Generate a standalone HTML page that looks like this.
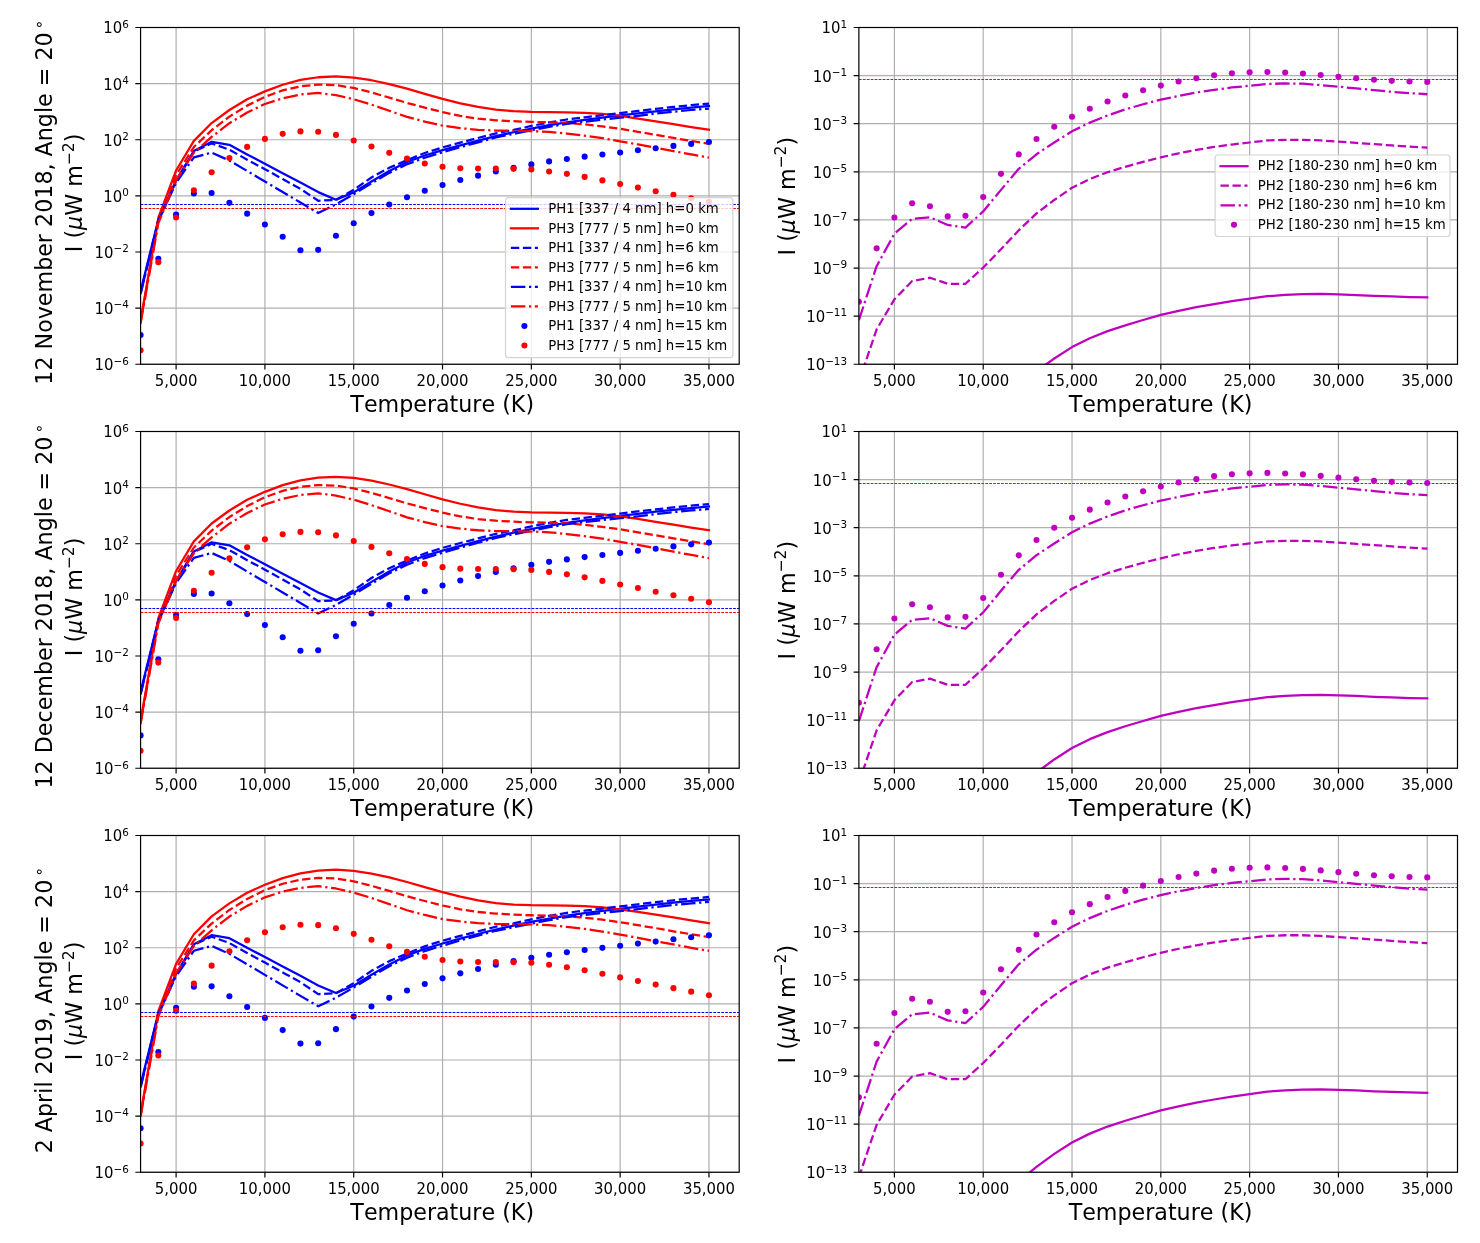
<!DOCTYPE html>
<html><head><meta charset="utf-8"><title>Photometer irradiance vs temperature</title>
<style>html,body{margin:0;padding:0;background:#fff}svg{display:block;will-change:transform}</style></head>
<body>
<svg width="1480" height="1243" viewBox="0 0 1480 1243" font-family="'DejaVu Sans', 'Liberation Sans', sans-serif" fill="#000" style="font-kerning:none">
<clipPath id="c00"><rect x="140.58" y="27.5" width="598.62" height="336.75"/></clipPath>
<path d="M176.1 27.5V364.25M264.91 27.5V364.25M353.72 27.5V364.25M442.53 27.5V364.25M531.34 27.5V364.25M620.15 27.5V364.25M708.96 27.5V364.25M140.58 27.5H739.2M140.58 83.62H739.2M140.58 139.75H739.2M140.58 195.88H739.2M140.58 252H739.2M140.58 308.12H739.2M140.58 364.25H739.2" stroke="#b0b0b0" stroke-width="1.2" fill="none"/>
<g clip-path="url(#c00)" fill="none" stroke-width="2.26" stroke-linejoin="round">
<polyline points="140.58,291.29 158.34,219.73 176.1,180.44 193.87,150.98 211.63,141.83 229.39,144.8 247.15,154.48 264.91,163.72 282.68,173.2 300.44,182.43 318.2,192.09 335.96,199.69 353.72,192.37 371.49,181.42 389.25,171.04 407.01,162.06 424.77,155.47 442.53,150.13 460.3,145.36 478.06,140.68 495.82,136.16 513.58,132.23 531.34,128.53 549.11,125.16 566.87,122.3 584.63,119.83 602.39,117.58 620.15,115.48 637.92,113.37 655.68,111.27 673.44,109.3 691.2,107.62 708.96,106.07" stroke="#0000ff" stroke-linecap="square"/>
<polyline points="140.58,320.75 158.34,217.76 176.1,170.51 193.87,140.87 211.63,123.05 229.39,110 247.15,99.34 264.91,91.37 282.68,84.72 300.44,79.95 318.2,77.25 335.96,76.33 353.72,77.51 371.49,80.23 389.25,84.05 407.01,88.65 424.77,93.81 442.53,98.83 460.3,103.3 478.06,106.97 495.82,109.7 513.58,111.24 531.34,111.88 549.11,112.08 566.87,112.3 584.63,112.87 602.39,113.99 620.15,115.92 637.92,118.51 655.68,121.37 673.44,124.06 691.2,127.07 708.96,129.79" stroke="#ff0000" stroke-linecap="square"/>
<polyline points="140.58,293.25 158.34,220.29 176.1,181.28 193.87,151.54 211.63,143.34 229.39,149.71 247.15,159.67 264.91,169.22 282.68,179.04 300.44,188.86 318.2,200.76 335.96,199.94 353.72,189.79 371.49,177.49 389.25,167.81 407.01,160.1 424.77,153 442.53,147.41 460.3,142.56 478.06,137.98 495.82,133.38 513.58,129.93 531.34,125.97 549.11,122.44 566.87,119.49 584.63,117.3 602.39,115.25 620.15,113.09 637.92,110.93 655.68,108.88 673.44,106.92 691.2,105.18 708.96,103.63" stroke="#0000ff" stroke-dasharray="8.36 3.62"/>
<polyline points="140.58,322.16 158.34,220.57 176.1,175.11 193.87,147.05 211.63,130.21 229.39,116.6 247.15,105.63 264.91,96.79 282.68,90.42 300.44,86.35 318.2,84.58 335.96,85.17 353.72,87.97 371.49,92.44 389.25,97.6 407.01,102.9 424.77,107.65 442.53,112.14 460.3,115.92 478.06,118.65 495.82,120.27 513.58,121.23 531.34,121.9 549.11,122.3 566.87,123 584.63,124.34 602.39,126.39 620.15,128.83 637.92,131.81 655.68,134.78 673.44,137.93 691.2,140.9 708.96,143.76" stroke="#ff0000" stroke-dasharray="8.36 3.62"/>
<polyline points="140.58,294.09 158.34,221.13 176.1,182.69 193.87,157.43 211.63,152.52 229.39,160.52 247.15,171.01 264.91,181.51 282.68,192 300.44,202.5 318.2,212.99 335.96,204.41 353.72,194.19 371.49,183.39 389.25,172.86 407.01,164.3 424.77,157.71 442.53,152.29 460.3,147.1 478.06,142.3 495.82,137.42 513.58,133.86 531.34,130.29 549.11,126.79 566.87,123.78 584.63,121.65 602.39,119.6 620.15,117.72 637.92,115.81 655.68,113.65 673.44,111.69 691.2,110 708.96,108.52" stroke="#0000ff" stroke-dasharray="14.46 3.62 2.26 3.62"/>
<polyline points="140.58,323.56 158.34,223.1 176.1,180.16 193.87,152.66 211.63,136.94 229.39,123.19 247.15,112.53 264.91,104 282.68,98.27 300.44,94.49 318.2,92.86 335.96,95.13 353.72,99.23 371.49,104.67 389.25,110.76 407.01,116.88 424.77,121.62 442.53,125.72 460.3,128.13 478.06,129.79 495.82,130.57 513.58,130.77 531.34,131.05 549.11,131.81 566.87,133.58 584.63,135.6 602.39,138.18 620.15,141.32 637.92,144.44 655.68,147.83 673.44,151.09 691.2,154.48 708.96,157.6" stroke="#ff0000" stroke-dasharray="14.46 3.62 2.26 3.62"/>
<circle cx="140.58" cy="334.95" r="3.05" fill="#0000ff" stroke="none"/>
<circle cx="158.34" cy="258.76" r="3.05" fill="#0000ff" stroke="none"/>
<circle cx="176.1" cy="214.51" r="3.05" fill="#0000ff" stroke="none"/>
<circle cx="193.87" cy="193.43" r="3.05" fill="#0000ff" stroke="none"/>
<circle cx="211.63" cy="192.98" r="3.05" fill="#0000ff" stroke="none"/>
<circle cx="229.39" cy="202.83" r="3.05" fill="#0000ff" stroke="none"/>
<circle cx="247.15" cy="213.64" r="3.05" fill="#0000ff" stroke="none"/>
<circle cx="264.91" cy="224.55" r="3.05" fill="#0000ff" stroke="none"/>
<circle cx="282.68" cy="236.73" r="3.05" fill="#0000ff" stroke="none"/>
<circle cx="300.44" cy="250.23" r="3.05" fill="#0000ff" stroke="none"/>
<circle cx="318.2" cy="249.84" r="3.05" fill="#0000ff" stroke="none"/>
<circle cx="335.96" cy="235.78" r="3.05" fill="#0000ff" stroke="none"/>
<circle cx="353.72" cy="223.24" r="3.05" fill="#0000ff" stroke="none"/>
<circle cx="371.49" cy="213.08" r="3.05" fill="#0000ff" stroke="none"/>
<circle cx="389.25" cy="204.49" r="3.05" fill="#0000ff" stroke="none"/>
<circle cx="407.01" cy="197.22" r="3.05" fill="#0000ff" stroke="none"/>
<circle cx="424.77" cy="190.71" r="3.05" fill="#0000ff" stroke="none"/>
<circle cx="442.53" cy="185.01" r="3.05" fill="#0000ff" stroke="none"/>
<circle cx="460.3" cy="179.99" r="3.05" fill="#0000ff" stroke="none"/>
<circle cx="478.06" cy="175.64" r="3.05" fill="#0000ff" stroke="none"/>
<circle cx="495.82" cy="171.43" r="3.05" fill="#0000ff" stroke="none"/>
<circle cx="513.58" cy="167.78" r="3.05" fill="#0000ff" stroke="none"/>
<circle cx="531.34" cy="164.39" r="3.05" fill="#0000ff" stroke="none"/>
<circle cx="549.11" cy="161.39" r="3.05" fill="#0000ff" stroke="none"/>
<circle cx="566.87" cy="158.94" r="3.05" fill="#0000ff" stroke="none"/>
<circle cx="584.63" cy="156.64" r="3.05" fill="#0000ff" stroke="none"/>
<circle cx="602.39" cy="154.48" r="3.05" fill="#0000ff" stroke="none"/>
<circle cx="620.15" cy="152.43" r="3.05" fill="#0000ff" stroke="none"/>
<circle cx="637.92" cy="150.27" r="3.05" fill="#0000ff" stroke="none"/>
<circle cx="655.68" cy="148.22" r="3.05" fill="#0000ff" stroke="none"/>
<circle cx="673.44" cy="145.92" r="3.05" fill="#0000ff" stroke="none"/>
<circle cx="691.2" cy="143.9" r="3.05" fill="#0000ff" stroke="none"/>
<circle cx="708.96" cy="142" r="3.05" fill="#0000ff" stroke="none"/>
<circle cx="140.58" cy="350.22" r="3.05" fill="#ff0000" stroke="none"/>
<circle cx="158.34" cy="262.13" r="3.05" fill="#ff0000" stroke="none"/>
<circle cx="176.1" cy="217.48" r="3.05" fill="#ff0000" stroke="none"/>
<circle cx="193.87" cy="190.26" r="3.05" fill="#ff0000" stroke="none"/>
<circle cx="211.63" cy="172.3" r="3.05" fill="#ff0000" stroke="none"/>
<circle cx="229.39" cy="157.93" r="3.05" fill="#ff0000" stroke="none"/>
<circle cx="247.15" cy="146.88" r="3.05" fill="#ff0000" stroke="none"/>
<circle cx="264.91" cy="138.88" r="3.05" fill="#ff0000" stroke="none"/>
<circle cx="282.68" cy="133.86" r="3.05" fill="#ff0000" stroke="none"/>
<circle cx="300.44" cy="131.42" r="3.05" fill="#ff0000" stroke="none"/>
<circle cx="318.2" cy="131.81" r="3.05" fill="#ff0000" stroke="none"/>
<circle cx="335.96" cy="134.92" r="3.05" fill="#ff0000" stroke="none"/>
<circle cx="353.72" cy="140.51" r="3.05" fill="#ff0000" stroke="none"/>
<circle cx="371.49" cy="146.46" r="3.05" fill="#ff0000" stroke="none"/>
<circle cx="389.25" cy="152.86" r="3.05" fill="#ff0000" stroke="none"/>
<circle cx="407.01" cy="158.55" r="3.05" fill="#ff0000" stroke="none"/>
<circle cx="424.77" cy="163.43" r="3.05" fill="#ff0000" stroke="none"/>
<circle cx="442.53" cy="166.69" r="3.05" fill="#ff0000" stroke="none"/>
<circle cx="460.3" cy="168.18" r="3.05" fill="#ff0000" stroke="none"/>
<circle cx="478.06" cy="168.6" r="3.05" fill="#ff0000" stroke="none"/>
<circle cx="495.82" cy="168.6" r="3.05" fill="#ff0000" stroke="none"/>
<circle cx="513.58" cy="168.85" r="3.05" fill="#ff0000" stroke="none"/>
<circle cx="531.34" cy="169.41" r="3.05" fill="#ff0000" stroke="none"/>
<circle cx="549.11" cy="171.43" r="3.05" fill="#ff0000" stroke="none"/>
<circle cx="566.87" cy="173.87" r="3.05" fill="#ff0000" stroke="none"/>
<circle cx="584.63" cy="176.88" r="3.05" fill="#ff0000" stroke="none"/>
<circle cx="602.39" cy="180.41" r="3.05" fill="#ff0000" stroke="none"/>
<circle cx="620.15" cy="184.06" r="3.05" fill="#ff0000" stroke="none"/>
<circle cx="637.92" cy="187.6" r="3.05" fill="#ff0000" stroke="none"/>
<circle cx="655.68" cy="191.27" r="3.05" fill="#ff0000" stroke="none"/>
<circle cx="673.44" cy="194.78" r="3.05" fill="#ff0000" stroke="none"/>
<circle cx="691.2" cy="198.32" r="3.05" fill="#ff0000" stroke="none"/>
<circle cx="708.96" cy="201.85" r="3.05" fill="#ff0000" stroke="none"/>
<path d="M140.58 204.5H739.2" stroke="#0000ff" stroke-width="1" stroke-dasharray="2.76 1.19"/>
<path d="M140.58 208.5H739.2" stroke="#ff0000" stroke-width="1" stroke-dasharray="2.76 1.19"/>
</g>
<path d="M176.1 364.25v5.25M264.91 364.25v5.25M353.72 364.25v5.25M442.53 364.25v5.25M531.34 364.25v5.25M620.15 364.25v5.25M708.96 364.25v5.25M140.58 27.5h-5.25M140.58 83.62h-5.25M140.58 139.75h-5.25M140.58 195.88h-5.25M140.58 252h-5.25M140.58 308.12h-5.25M140.58 364.25h-5.25" stroke="#000" stroke-width="1.2" fill="none"/>
<rect x="140.58" y="27.5" width="598.62" height="336.75" fill="none" stroke="#000" stroke-width="1.2"/>
<text transform="translate(176.1 386.1) scale(1 1.04)" text-anchor="middle" font-size="14.9">5,000</text>
<text transform="translate(264.91 386.1) scale(1 1.04)" text-anchor="middle" font-size="14.9">10,000</text>
<text transform="translate(353.72 386.1) scale(1 1.04)" text-anchor="middle" font-size="14.9">15,000</text>
<text transform="translate(442.53 386.1) scale(1 1.04)" text-anchor="middle" font-size="14.9">20,000</text>
<text transform="translate(531.34 386.1) scale(1 1.04)" text-anchor="middle" font-size="14.9">25,000</text>
<text transform="translate(620.15 386.1) scale(1 1.04)" text-anchor="middle" font-size="14.9">30,000</text>
<text transform="translate(708.96 386.1) scale(1 1.04)" text-anchor="middle" font-size="14.9">35,000</text>
<text transform="translate(128.78 33.45) scale(1 1.04)" text-anchor="end" font-size="14.9">10<tspan dy="-5.4" font-size="10.4">6</tspan></text>
<text transform="translate(128.78 89.58) scale(1 1.04)" text-anchor="end" font-size="14.9">10<tspan dy="-5.4" font-size="10.4">4</tspan></text>
<text transform="translate(128.78 145.7) scale(1 1.04)" text-anchor="end" font-size="14.9">10<tspan dy="-5.4" font-size="10.4">2</tspan></text>
<text transform="translate(128.78 201.82) scale(1 1.04)" text-anchor="end" font-size="14.9">10<tspan dy="-5.4" font-size="10.4">0</tspan></text>
<text transform="translate(128.78 257.95) scale(1 1.04)" text-anchor="end" font-size="14.9">10<tspan dy="-5.4" font-size="10.4">−2</tspan></text>
<text transform="translate(128.78 314.07) scale(1 1.04)" text-anchor="end" font-size="14.9">10<tspan dy="-5.4" font-size="10.4">−4</tspan></text>
<text transform="translate(128.78 370.2) scale(1 1.04)" text-anchor="end" font-size="14.9">10<tspan dy="-5.4" font-size="10.4">−6</tspan></text>
<text x="442.19" y="411.55" text-anchor="middle" font-size="22.2" letter-spacing="0" style="font-kerning:none">Temperature (K)</text>
<text transform="translate(82.4 192.88) rotate(-90)" text-anchor="middle" font-size="22.2">I (<tspan font-style="italic">μ</tspan>W m<tspan dy="-8.88" font-size="15.54">−2</tspan><tspan dy="8.88">)</tspan></text>
<text transform="translate(52.2 202.07) rotate(-90)" text-anchor="middle" font-size="22.2">12 November 2018, Angle = 20<tspan dx="3.2" dy="-8.44" font-size="15.54">∘</tspan></text>
<clipPath id="c10"><rect x="858.88" y="27.5" width="598.62" height="336.75"/></clipPath>
<path d="M894.4 27.5V364.25M983.21 27.5V364.25M1072.02 27.5V364.25M1160.83 27.5V364.25M1249.64 27.5V364.25M1338.45 27.5V364.25M1427.26 27.5V364.25M858.88 27.5H1457.5M858.88 75.61H1457.5M858.88 123.71H1457.5M858.88 171.82H1457.5M858.88 219.93H1457.5M858.88 268.04H1457.5M858.88 316.14H1457.5M858.88 364.25H1457.5" stroke="#b0b0b0" stroke-width="1.2" fill="none"/>
<g clip-path="url(#c10)" fill="none" stroke-width="2.26" stroke-linejoin="round">
<polyline points="858.88,580.73 876.64,532.62 894.4,496.54 912.17,467.68 929.93,446.03 947.69,429.19 965.45,414.76 983.21,402.74 1000.98,393.11 1018.74,385.9 1036.5,371.47 1054.26,358.48 1072.02,347.1 1089.79,338.18 1107.55,331.13 1125.31,325.31 1143.07,320.04 1160.83,314.89 1178.6,310.85 1196.36,307.19 1214.12,304.07 1231.88,301.11 1249.64,298.58 1267.41,296.23 1285.17,294.88 1302.93,294.21 1320.69,293.94 1338.45,294.33 1356.22,295.02 1373.98,295.82 1391.74,296.49 1409.5,297.04 1427.26,297.31" stroke="#bf00bf" stroke-linecap="square"/>
<polyline points="858.88,381.81 876.64,329.37 894.4,299.33 912.17,281.07 929.93,277.71 947.69,283.79 965.45,283.79 983.21,267.55 1000.98,249.27 1018.74,230.34 1036.5,213.43 1054.26,199.96 1072.02,187.77 1089.79,178.99 1107.55,172.23 1125.31,166.82 1143.07,161.82 1160.83,157.37 1178.6,153.3 1196.36,149.93 1214.12,146.95 1231.88,144.52 1249.64,142.5 1267.41,140.48 1285.17,139.81 1302.93,139.81 1320.69,140.48 1338.45,141.56 1356.22,142.91 1373.98,144.11 1391.74,145.46 1409.5,146.69 1427.26,147.62" stroke="#bf00bf" stroke-dasharray="8.36 3.62"/>
<polyline points="858.88,320.23 876.64,266.18 894.4,233.74 912.17,218.85 929.93,217.23 947.69,224.93 965.45,227.65 983.21,211.41 1000.98,189.86 1018.74,168.84 1036.5,154.26 1054.26,142.48 1072.02,131.29 1089.79,122.63 1107.55,115.46 1125.31,109.38 1143.07,104.25 1160.83,99.66 1178.6,95.88 1196.36,92.49 1214.12,89.8 1231.88,87.49 1249.64,85.73 1267.41,83.98 1285.17,83.45 1302.93,83.71 1320.69,85.06 1338.45,86.7 1356.22,88.45 1373.98,90.06 1391.74,91.82 1409.5,93.17 1427.26,94.25" stroke="#bf00bf" stroke-dasharray="14.46 3.62 2.26 3.62"/>
<circle cx="858.88" cy="301.78" r="3.05" fill="#bf00bf" stroke="none"/>
<circle cx="876.64" cy="248.34" r="3.05" fill="#bf00bf" stroke="none"/>
<circle cx="894.4" cy="217.5" r="3.05" fill="#bf00bf" stroke="none"/>
<circle cx="912.17" cy="203.28" r="3.05" fill="#bf00bf" stroke="none"/>
<circle cx="929.93" cy="206.27" r="3.05" fill="#bf00bf" stroke="none"/>
<circle cx="947.69" cy="216.42" r="3.05" fill="#bf00bf" stroke="none"/>
<circle cx="965.45" cy="215.86" r="3.05" fill="#bf00bf" stroke="none"/>
<circle cx="983.21" cy="197.08" r="3.05" fill="#bf00bf" stroke="none"/>
<circle cx="1000.98" cy="173.84" r="3.05" fill="#bf00bf" stroke="none"/>
<circle cx="1018.74" cy="154.38" r="3.05" fill="#bf00bf" stroke="none"/>
<circle cx="1036.5" cy="138.99" r="3.05" fill="#bf00bf" stroke="none"/>
<circle cx="1054.26" cy="126.82" r="3.05" fill="#bf00bf" stroke="none"/>
<circle cx="1072.02" cy="116.81" r="3.05" fill="#bf00bf" stroke="none"/>
<circle cx="1089.79" cy="108.7" r="3.05" fill="#bf00bf" stroke="none"/>
<circle cx="1107.55" cy="101.56" r="3.05" fill="#bf00bf" stroke="none"/>
<circle cx="1125.31" cy="95.48" r="3.05" fill="#bf00bf" stroke="none"/>
<circle cx="1143.07" cy="90.21" r="3.05" fill="#bf00bf" stroke="none"/>
<circle cx="1160.83" cy="85.61" r="3.05" fill="#bf00bf" stroke="none"/>
<circle cx="1178.6" cy="81.55" r="3.05" fill="#bf00bf" stroke="none"/>
<circle cx="1196.36" cy="78.18" r="3.05" fill="#bf00bf" stroke="none"/>
<circle cx="1214.12" cy="75.2" r="3.05" fill="#bf00bf" stroke="none"/>
<circle cx="1231.88" cy="73.3" r="3.05" fill="#bf00bf" stroke="none"/>
<circle cx="1249.64" cy="72.36" r="3.05" fill="#bf00bf" stroke="none"/>
<circle cx="1267.41" cy="71.95" r="3.05" fill="#bf00bf" stroke="none"/>
<circle cx="1285.17" cy="72.5" r="3.05" fill="#bf00bf" stroke="none"/>
<circle cx="1302.93" cy="73.44" r="3.05" fill="#bf00bf" stroke="none"/>
<circle cx="1320.69" cy="74.93" r="3.05" fill="#bf00bf" stroke="none"/>
<circle cx="1338.45" cy="76.69" r="3.05" fill="#bf00bf" stroke="none"/>
<circle cx="1356.22" cy="78.3" r="3.05" fill="#bf00bf" stroke="none"/>
<circle cx="1373.98" cy="79.79" r="3.05" fill="#bf00bf" stroke="none"/>
<circle cx="1391.74" cy="80.87" r="3.05" fill="#bf00bf" stroke="none"/>
<circle cx="1409.5" cy="81.55" r="3.05" fill="#bf00bf" stroke="none"/>
<circle cx="1427.26" cy="81.96" r="3.05" fill="#bf00bf" stroke="none"/>
<path d="M858.88 79.5H1457.5" stroke="#bf00bf" stroke-width="1" stroke-dasharray="2.76 1.19"/>
</g>
<path d="M894.4 364.25v5.25M983.21 364.25v5.25M1072.02 364.25v5.25M1160.83 364.25v5.25M1249.64 364.25v5.25M1338.45 364.25v5.25M1427.26 364.25v5.25M858.88 27.5h-5.25M858.88 75.61h-5.25M858.88 123.71h-5.25M858.88 171.82h-5.25M858.88 219.93h-5.25M858.88 268.04h-5.25M858.88 316.14h-5.25M858.88 364.25h-5.25" stroke="#000" stroke-width="1.2" fill="none"/>
<rect x="858.88" y="27.5" width="598.62" height="336.75" fill="none" stroke="#000" stroke-width="1.2"/>
<text transform="translate(894.4 386.1) scale(1 1.04)" text-anchor="middle" font-size="14.9">5,000</text>
<text transform="translate(983.21 386.1) scale(1 1.04)" text-anchor="middle" font-size="14.9">10,000</text>
<text transform="translate(1072.02 386.1) scale(1 1.04)" text-anchor="middle" font-size="14.9">15,000</text>
<text transform="translate(1160.83 386.1) scale(1 1.04)" text-anchor="middle" font-size="14.9">20,000</text>
<text transform="translate(1249.64 386.1) scale(1 1.04)" text-anchor="middle" font-size="14.9">25,000</text>
<text transform="translate(1338.45 386.1) scale(1 1.04)" text-anchor="middle" font-size="14.9">30,000</text>
<text transform="translate(1427.26 386.1) scale(1 1.04)" text-anchor="middle" font-size="14.9">35,000</text>
<text transform="translate(847.08 33.45) scale(1 1.04)" text-anchor="end" font-size="14.9">10<tspan dy="-5.4" font-size="10.4">1</tspan></text>
<text transform="translate(847.08 81.56) scale(1 1.04)" text-anchor="end" font-size="14.9">10<tspan dy="-5.4" font-size="10.4">−1</tspan></text>
<text transform="translate(847.08 129.66) scale(1 1.04)" text-anchor="end" font-size="14.9">10<tspan dy="-5.4" font-size="10.4">−3</tspan></text>
<text transform="translate(847.08 177.77) scale(1 1.04)" text-anchor="end" font-size="14.9">10<tspan dy="-5.4" font-size="10.4">−5</tspan></text>
<text transform="translate(847.08 225.88) scale(1 1.04)" text-anchor="end" font-size="14.9">10<tspan dy="-5.4" font-size="10.4">−7</tspan></text>
<text transform="translate(847.08 273.99) scale(1 1.04)" text-anchor="end" font-size="14.9">10<tspan dy="-5.4" font-size="10.4">−9</tspan></text>
<text transform="translate(847.08 322.09) scale(1 1.04)" text-anchor="end" font-size="14.9">10<tspan dy="-5.4" font-size="10.4">−11</tspan></text>
<text transform="translate(847.08 370.2) scale(1 1.04)" text-anchor="end" font-size="14.9">10<tspan dy="-5.4" font-size="10.4">−13</tspan></text>
<text x="1160.49" y="411.55" text-anchor="middle" font-size="22.2" letter-spacing="0" style="font-kerning:none">Temperature (K)</text>
<text transform="translate(795.1 196.18) rotate(-90)" text-anchor="middle" font-size="22.2">I (<tspan font-style="italic">μ</tspan>W m<tspan dy="-8.88" font-size="15.54">−2</tspan><tspan dy="8.88">)</tspan></text>
<clipPath id="c01"><rect x="140.58" y="431.5" width="598.62" height="336.75"/></clipPath>
<path d="M176.1 431.5V768.25M264.91 431.5V768.25M353.72 431.5V768.25M442.53 431.5V768.25M531.34 431.5V768.25M620.15 431.5V768.25M708.96 431.5V768.25M140.58 431.5H739.2M140.58 487.62H739.2M140.58 543.75H739.2M140.58 599.88H739.2M140.58 656H739.2M140.58 712.12H739.2M140.58 768.25H739.2" stroke="#b0b0b0" stroke-width="1.2" fill="none"/>
<g clip-path="url(#c01)" fill="none" stroke-width="2.26" stroke-linejoin="round">
<polyline points="140.58,691.75 158.34,620.19 176.1,580.9 193.87,551.44 211.63,542.29 229.39,545.27 247.15,554.95 264.91,564.18 282.68,573.66 300.44,582.9 318.2,592.55 335.96,600.16 353.72,592.83 371.49,581.89 389.25,571.5 407.01,562.52 424.77,555.93 442.53,550.6 460.3,545.83 478.06,541.14 495.82,536.62 513.58,532.69 531.34,528.99 549.11,525.62 566.87,522.76 584.63,520.29 602.39,518.04 620.15,515.94 637.92,513.84 655.68,511.73 673.44,509.77 691.2,508.08 708.96,506.54" stroke="#0000ff" stroke-linecap="square"/>
<polyline points="140.58,721.22 158.34,618.23 176.1,570.97 193.87,541.34 211.63,523.52 229.39,510.47 247.15,499.8 264.91,491.83 282.68,485.18 300.44,480.41 318.2,477.72 335.96,476.79 353.72,477.97 371.49,480.69 389.25,484.51 407.01,489.11 424.77,494.28 442.53,499.3 460.3,503.76 478.06,507.44 495.82,510.16 513.58,511.7 531.34,512.35 549.11,512.54 566.87,512.77 584.63,513.33 602.39,514.45 620.15,516.39 637.92,518.97 655.68,521.83 673.44,524.53 691.2,527.53 708.96,530.25" stroke="#ff0000" stroke-linecap="square"/>
<polyline points="140.58,693.72 158.34,620.75 176.1,581.75 193.87,552 211.63,543.81 229.39,550.18 247.15,560.14 264.91,569.68 282.68,579.5 300.44,589.32 318.2,601.22 335.96,600.41 353.72,590.25 371.49,577.96 389.25,568.28 407.01,560.56 424.77,553.46 442.53,547.88 460.3,543.02 478.06,538.45 495.82,533.84 513.58,530.39 531.34,526.44 549.11,522.9 566.87,519.95 584.63,517.76 602.39,515.72 620.15,513.55 637.92,511.39 655.68,509.35 673.44,507.38 691.2,505.64 708.96,504.1" stroke="#0000ff" stroke-dasharray="8.36 3.62"/>
<polyline points="140.58,722.62 158.34,621.03 176.1,575.57 193.87,547.51 211.63,530.67 229.39,517.06 247.15,506.09 264.91,497.25 282.68,490.88 300.44,486.81 318.2,485.04 335.96,485.63 353.72,488.44 371.49,492.9 389.25,498.06 407.01,503.37 424.77,508.11 442.53,512.6 460.3,516.39 478.06,519.11 495.82,520.74 513.58,521.69 531.34,522.37 549.11,522.76 566.87,523.46 584.63,524.81 602.39,526.86 620.15,529.3 637.92,532.27 655.68,535.25 673.44,538.39 691.2,541.36 708.96,544.23" stroke="#ff0000" stroke-dasharray="8.36 3.62"/>
<polyline points="140.58,694.56 158.34,621.6 176.1,583.15 193.87,557.89 211.63,552.98 229.39,560.98 247.15,571.48 264.91,581.97 282.68,592.47 300.44,602.96 318.2,613.46 335.96,604.87 353.72,594.66 371.49,583.85 389.25,573.33 407.01,564.77 424.77,558.17 442.53,552.76 460.3,547.57 478.06,542.77 495.82,537.88 513.58,534.32 531.34,530.76 549.11,527.25 566.87,524.25 584.63,522.11 602.39,520.07 620.15,518.19 637.92,516.28 655.68,514.12 673.44,512.15 691.2,510.47 708.96,508.98" stroke="#0000ff" stroke-dasharray="14.46 3.62 2.26 3.62"/>
<polyline points="140.58,724.02 158.34,623.56 176.1,580.62 193.87,553.12 211.63,537.41 229.39,523.66 247.15,512.99 264.91,504.46 282.68,498.74 300.44,494.95 318.2,493.32 335.96,495.59 353.72,499.69 371.49,505.14 389.25,511.23 407.01,517.34 424.77,522.09 442.53,526.18 460.3,528.6 478.06,530.25 495.82,531.04 513.58,531.23 531.34,531.51 549.11,532.27 566.87,534.04 584.63,536.06 602.39,538.64 620.15,541.79 637.92,544.9 655.68,548.3 673.44,551.55 691.2,554.95 708.96,558.06" stroke="#ff0000" stroke-dasharray="14.46 3.62 2.26 3.62"/>
<circle cx="140.58" cy="735.42" r="3.05" fill="#0000ff" stroke="none"/>
<circle cx="158.34" cy="659.23" r="3.05" fill="#0000ff" stroke="none"/>
<circle cx="176.1" cy="614.97" r="3.05" fill="#0000ff" stroke="none"/>
<circle cx="193.87" cy="593.9" r="3.05" fill="#0000ff" stroke="none"/>
<circle cx="211.63" cy="593.45" r="3.05" fill="#0000ff" stroke="none"/>
<circle cx="229.39" cy="603.3" r="3.05" fill="#0000ff" stroke="none"/>
<circle cx="247.15" cy="614.1" r="3.05" fill="#0000ff" stroke="none"/>
<circle cx="264.91" cy="625.02" r="3.05" fill="#0000ff" stroke="none"/>
<circle cx="282.68" cy="637.2" r="3.05" fill="#0000ff" stroke="none"/>
<circle cx="300.44" cy="650.7" r="3.05" fill="#0000ff" stroke="none"/>
<circle cx="318.2" cy="650.3" r="3.05" fill="#0000ff" stroke="none"/>
<circle cx="335.96" cy="636.24" r="3.05" fill="#0000ff" stroke="none"/>
<circle cx="353.72" cy="623.7" r="3.05" fill="#0000ff" stroke="none"/>
<circle cx="371.49" cy="613.54" r="3.05" fill="#0000ff" stroke="none"/>
<circle cx="389.25" cy="604.95" r="3.05" fill="#0000ff" stroke="none"/>
<circle cx="407.01" cy="597.69" r="3.05" fill="#0000ff" stroke="none"/>
<circle cx="424.77" cy="591.18" r="3.05" fill="#0000ff" stroke="none"/>
<circle cx="442.53" cy="585.48" r="3.05" fill="#0000ff" stroke="none"/>
<circle cx="460.3" cy="580.46" r="3.05" fill="#0000ff" stroke="none"/>
<circle cx="478.06" cy="576.11" r="3.05" fill="#0000ff" stroke="none"/>
<circle cx="495.82" cy="571.9" r="3.05" fill="#0000ff" stroke="none"/>
<circle cx="513.58" cy="568.25" r="3.05" fill="#0000ff" stroke="none"/>
<circle cx="531.34" cy="564.85" r="3.05" fill="#0000ff" stroke="none"/>
<circle cx="549.11" cy="561.85" r="3.05" fill="#0000ff" stroke="none"/>
<circle cx="566.87" cy="559.41" r="3.05" fill="#0000ff" stroke="none"/>
<circle cx="584.63" cy="557.11" r="3.05" fill="#0000ff" stroke="none"/>
<circle cx="602.39" cy="554.95" r="3.05" fill="#0000ff" stroke="none"/>
<circle cx="620.15" cy="552.9" r="3.05" fill="#0000ff" stroke="none"/>
<circle cx="637.92" cy="550.74" r="3.05" fill="#0000ff" stroke="none"/>
<circle cx="655.68" cy="548.69" r="3.05" fill="#0000ff" stroke="none"/>
<circle cx="673.44" cy="546.39" r="3.05" fill="#0000ff" stroke="none"/>
<circle cx="691.2" cy="544.37" r="3.05" fill="#0000ff" stroke="none"/>
<circle cx="708.96" cy="542.46" r="3.05" fill="#0000ff" stroke="none"/>
<circle cx="140.58" cy="750.68" r="3.05" fill="#ff0000" stroke="none"/>
<circle cx="158.34" cy="662.59" r="3.05" fill="#ff0000" stroke="none"/>
<circle cx="176.1" cy="617.95" r="3.05" fill="#ff0000" stroke="none"/>
<circle cx="193.87" cy="590.73" r="3.05" fill="#ff0000" stroke="none"/>
<circle cx="211.63" cy="572.77" r="3.05" fill="#ff0000" stroke="none"/>
<circle cx="229.39" cy="558.4" r="3.05" fill="#ff0000" stroke="none"/>
<circle cx="247.15" cy="547.34" r="3.05" fill="#ff0000" stroke="none"/>
<circle cx="264.91" cy="539.34" r="3.05" fill="#ff0000" stroke="none"/>
<circle cx="282.68" cy="534.32" r="3.05" fill="#ff0000" stroke="none"/>
<circle cx="300.44" cy="531.88" r="3.05" fill="#ff0000" stroke="none"/>
<circle cx="318.2" cy="532.27" r="3.05" fill="#ff0000" stroke="none"/>
<circle cx="335.96" cy="535.39" r="3.05" fill="#ff0000" stroke="none"/>
<circle cx="353.72" cy="540.97" r="3.05" fill="#ff0000" stroke="none"/>
<circle cx="371.49" cy="546.92" r="3.05" fill="#ff0000" stroke="none"/>
<circle cx="389.25" cy="553.32" r="3.05" fill="#ff0000" stroke="none"/>
<circle cx="407.01" cy="559.02" r="3.05" fill="#ff0000" stroke="none"/>
<circle cx="424.77" cy="563.9" r="3.05" fill="#ff0000" stroke="none"/>
<circle cx="442.53" cy="567.15" r="3.05" fill="#ff0000" stroke="none"/>
<circle cx="460.3" cy="568.64" r="3.05" fill="#ff0000" stroke="none"/>
<circle cx="478.06" cy="569.06" r="3.05" fill="#ff0000" stroke="none"/>
<circle cx="495.82" cy="569.06" r="3.05" fill="#ff0000" stroke="none"/>
<circle cx="513.58" cy="569.31" r="3.05" fill="#ff0000" stroke="none"/>
<circle cx="531.34" cy="569.88" r="3.05" fill="#ff0000" stroke="none"/>
<circle cx="549.11" cy="571.9" r="3.05" fill="#ff0000" stroke="none"/>
<circle cx="566.87" cy="574.34" r="3.05" fill="#ff0000" stroke="none"/>
<circle cx="584.63" cy="577.34" r="3.05" fill="#ff0000" stroke="none"/>
<circle cx="602.39" cy="580.88" r="3.05" fill="#ff0000" stroke="none"/>
<circle cx="620.15" cy="584.52" r="3.05" fill="#ff0000" stroke="none"/>
<circle cx="637.92" cy="588.06" r="3.05" fill="#ff0000" stroke="none"/>
<circle cx="655.68" cy="591.74" r="3.05" fill="#ff0000" stroke="none"/>
<circle cx="673.44" cy="595.24" r="3.05" fill="#ff0000" stroke="none"/>
<circle cx="691.2" cy="598.78" r="3.05" fill="#ff0000" stroke="none"/>
<circle cx="708.96" cy="602.32" r="3.05" fill="#ff0000" stroke="none"/>
<path d="M140.58 608.5H739.2" stroke="#0000ff" stroke-width="1" stroke-dasharray="2.76 1.19"/>
<path d="M140.58 612.5H739.2" stroke="#ff0000" stroke-width="1" stroke-dasharray="2.76 1.19"/>
</g>
<path d="M176.1 768.25v5.25M264.91 768.25v5.25M353.72 768.25v5.25M442.53 768.25v5.25M531.34 768.25v5.25M620.15 768.25v5.25M708.96 768.25v5.25M140.58 431.5h-5.25M140.58 487.62h-5.25M140.58 543.75h-5.25M140.58 599.88h-5.25M140.58 656h-5.25M140.58 712.12h-5.25M140.58 768.25h-5.25" stroke="#000" stroke-width="1.2" fill="none"/>
<rect x="140.58" y="431.5" width="598.62" height="336.75" fill="none" stroke="#000" stroke-width="1.2"/>
<text transform="translate(176.1 790.1) scale(1 1.04)" text-anchor="middle" font-size="14.9">5,000</text>
<text transform="translate(264.91 790.1) scale(1 1.04)" text-anchor="middle" font-size="14.9">10,000</text>
<text transform="translate(353.72 790.1) scale(1 1.04)" text-anchor="middle" font-size="14.9">15,000</text>
<text transform="translate(442.53 790.1) scale(1 1.04)" text-anchor="middle" font-size="14.9">20,000</text>
<text transform="translate(531.34 790.1) scale(1 1.04)" text-anchor="middle" font-size="14.9">25,000</text>
<text transform="translate(620.15 790.1) scale(1 1.04)" text-anchor="middle" font-size="14.9">30,000</text>
<text transform="translate(708.96 790.1) scale(1 1.04)" text-anchor="middle" font-size="14.9">35,000</text>
<text transform="translate(128.78 437.45) scale(1 1.04)" text-anchor="end" font-size="14.9">10<tspan dy="-5.4" font-size="10.4">6</tspan></text>
<text transform="translate(128.78 493.57) scale(1 1.04)" text-anchor="end" font-size="14.9">10<tspan dy="-5.4" font-size="10.4">4</tspan></text>
<text transform="translate(128.78 549.7) scale(1 1.04)" text-anchor="end" font-size="14.9">10<tspan dy="-5.4" font-size="10.4">2</tspan></text>
<text transform="translate(128.78 605.83) scale(1 1.04)" text-anchor="end" font-size="14.9">10<tspan dy="-5.4" font-size="10.4">0</tspan></text>
<text transform="translate(128.78 661.95) scale(1 1.04)" text-anchor="end" font-size="14.9">10<tspan dy="-5.4" font-size="10.4">−2</tspan></text>
<text transform="translate(128.78 718.08) scale(1 1.04)" text-anchor="end" font-size="14.9">10<tspan dy="-5.4" font-size="10.4">−4</tspan></text>
<text transform="translate(128.78 774.2) scale(1 1.04)" text-anchor="end" font-size="14.9">10<tspan dy="-5.4" font-size="10.4">−6</tspan></text>
<text x="442.19" y="815.55" text-anchor="middle" font-size="22.2" letter-spacing="0" style="font-kerning:none">Temperature (K)</text>
<text transform="translate(82.4 596.88) rotate(-90)" text-anchor="middle" font-size="22.2">I (<tspan font-style="italic">μ</tspan>W m<tspan dy="-8.88" font-size="15.54">−2</tspan><tspan dy="8.88">)</tspan></text>
<text transform="translate(52.2 606.08) rotate(-90)" text-anchor="middle" font-size="22.2">12 December 2018, Angle = 20<tspan dx="3.2" dy="-8.44" font-size="15.54">∘</tspan></text>
<clipPath id="c11"><rect x="858.88" y="431.5" width="598.62" height="336.75"/></clipPath>
<path d="M894.4 431.5V768.25M983.21 431.5V768.25M1072.02 431.5V768.25M1160.83 431.5V768.25M1249.64 431.5V768.25M1338.45 431.5V768.25M1427.26 431.5V768.25M858.88 431.5H1457.5M858.88 479.61H1457.5M858.88 527.71H1457.5M858.88 575.82H1457.5M858.88 623.93H1457.5M858.88 672.04H1457.5M858.88 720.14H1457.5M858.88 768.25H1457.5" stroke="#b0b0b0" stroke-width="1.2" fill="none"/>
<g clip-path="url(#c11)" fill="none" stroke-width="2.26" stroke-linejoin="round">
<polyline points="858.88,981.7 876.64,933.59 894.4,897.51 912.17,868.65 929.93,847 947.69,830.16 965.45,815.73 983.21,803.7 1000.98,794.08 1018.74,786.87 1036.5,772.44 1054.26,759.45 1072.02,748.07 1089.79,739.15 1107.55,732.1 1125.31,726.28 1143.07,721.01 1160.83,715.86 1178.6,711.82 1196.36,708.16 1214.12,705.04 1231.88,702.08 1249.64,699.55 1267.41,697.2 1285.17,695.85 1302.93,695.18 1320.69,694.91 1338.45,695.3 1356.22,695.99 1373.98,696.79 1391.74,697.46 1409.5,698.01 1427.26,698.28" stroke="#bf00bf" stroke-linecap="square"/>
<polyline points="858.88,782.78 876.64,730.34 894.4,700.3 912.17,682.04 929.93,678.67 947.69,684.76 965.45,684.76 983.21,668.52 1000.98,650.24 1018.74,631.31 1036.5,614.4 1054.26,600.93 1072.02,588.74 1089.79,579.96 1107.55,573.2 1125.31,567.79 1143.07,562.78 1160.83,558.33 1178.6,554.27 1196.36,550.9 1214.12,547.92 1231.88,545.49 1249.64,543.47 1267.41,541.45 1285.17,540.78 1302.93,540.78 1320.69,541.45 1338.45,542.53 1356.22,543.88 1373.98,545.08 1391.74,546.43 1409.5,547.65 1427.26,548.59" stroke="#bf00bf" stroke-dasharray="8.36 3.62"/>
<polyline points="858.88,721.2 876.64,667.15 894.4,634.7 912.17,619.82 929.93,618.2 947.69,625.9 965.45,628.62 983.21,612.38 1000.98,590.83 1018.74,569.81 1036.5,555.23 1054.26,543.45 1072.02,532.26 1089.79,523.6 1107.55,516.43 1125.31,510.35 1143.07,505.22 1160.83,500.63 1178.6,496.85 1196.36,493.46 1214.12,490.77 1231.88,488.46 1249.64,486.7 1267.41,484.95 1285.17,484.42 1302.93,484.68 1320.69,486.03 1338.45,487.67 1356.22,489.42 1373.98,491.03 1391.74,492.79 1409.5,494.14 1427.26,495.22" stroke="#bf00bf" stroke-dasharray="14.46 3.62 2.26 3.62"/>
<circle cx="858.88" cy="702.75" r="3.05" fill="#bf00bf" stroke="none"/>
<circle cx="876.64" cy="649.31" r="3.05" fill="#bf00bf" stroke="none"/>
<circle cx="894.4" cy="618.47" r="3.05" fill="#bf00bf" stroke="none"/>
<circle cx="912.17" cy="604.25" r="3.05" fill="#bf00bf" stroke="none"/>
<circle cx="929.93" cy="607.24" r="3.05" fill="#bf00bf" stroke="none"/>
<circle cx="947.69" cy="617.39" r="3.05" fill="#bf00bf" stroke="none"/>
<circle cx="965.45" cy="616.83" r="3.05" fill="#bf00bf" stroke="none"/>
<circle cx="983.21" cy="598.05" r="3.05" fill="#bf00bf" stroke="none"/>
<circle cx="1000.98" cy="574.81" r="3.05" fill="#bf00bf" stroke="none"/>
<circle cx="1018.74" cy="555.35" r="3.05" fill="#bf00bf" stroke="none"/>
<circle cx="1036.5" cy="539.96" r="3.05" fill="#bf00bf" stroke="none"/>
<circle cx="1054.26" cy="527.79" r="3.05" fill="#bf00bf" stroke="none"/>
<circle cx="1072.02" cy="517.78" r="3.05" fill="#bf00bf" stroke="none"/>
<circle cx="1089.79" cy="509.67" r="3.05" fill="#bf00bf" stroke="none"/>
<circle cx="1107.55" cy="502.53" r="3.05" fill="#bf00bf" stroke="none"/>
<circle cx="1125.31" cy="496.44" r="3.05" fill="#bf00bf" stroke="none"/>
<circle cx="1143.07" cy="491.18" r="3.05" fill="#bf00bf" stroke="none"/>
<circle cx="1160.83" cy="486.58" r="3.05" fill="#bf00bf" stroke="none"/>
<circle cx="1178.6" cy="482.52" r="3.05" fill="#bf00bf" stroke="none"/>
<circle cx="1196.36" cy="479.15" r="3.05" fill="#bf00bf" stroke="none"/>
<circle cx="1214.12" cy="476.17" r="3.05" fill="#bf00bf" stroke="none"/>
<circle cx="1231.88" cy="474.27" r="3.05" fill="#bf00bf" stroke="none"/>
<circle cx="1249.64" cy="473.33" r="3.05" fill="#bf00bf" stroke="none"/>
<circle cx="1267.41" cy="472.92" r="3.05" fill="#bf00bf" stroke="none"/>
<circle cx="1285.17" cy="473.47" r="3.05" fill="#bf00bf" stroke="none"/>
<circle cx="1302.93" cy="474.41" r="3.05" fill="#bf00bf" stroke="none"/>
<circle cx="1320.69" cy="475.9" r="3.05" fill="#bf00bf" stroke="none"/>
<circle cx="1338.45" cy="477.66" r="3.05" fill="#bf00bf" stroke="none"/>
<circle cx="1356.22" cy="479.27" r="3.05" fill="#bf00bf" stroke="none"/>
<circle cx="1373.98" cy="480.76" r="3.05" fill="#bf00bf" stroke="none"/>
<circle cx="1391.74" cy="481.84" r="3.05" fill="#bf00bf" stroke="none"/>
<circle cx="1409.5" cy="482.52" r="3.05" fill="#bf00bf" stroke="none"/>
<circle cx="1427.26" cy="482.93" r="3.05" fill="#bf00bf" stroke="none"/>
<path d="M858.88 483.5H1457.5" stroke="#bf00bf" stroke-width="1" stroke-dasharray="2.76 1.19"/>
</g>
<path d="M894.4 768.25v5.25M983.21 768.25v5.25M1072.02 768.25v5.25M1160.83 768.25v5.25M1249.64 768.25v5.25M1338.45 768.25v5.25M1427.26 768.25v5.25M858.88 431.5h-5.25M858.88 479.61h-5.25M858.88 527.71h-5.25M858.88 575.82h-5.25M858.88 623.93h-5.25M858.88 672.04h-5.25M858.88 720.14h-5.25M858.88 768.25h-5.25" stroke="#000" stroke-width="1.2" fill="none"/>
<rect x="858.88" y="431.5" width="598.62" height="336.75" fill="none" stroke="#000" stroke-width="1.2"/>
<text transform="translate(894.4 790.1) scale(1 1.04)" text-anchor="middle" font-size="14.9">5,000</text>
<text transform="translate(983.21 790.1) scale(1 1.04)" text-anchor="middle" font-size="14.9">10,000</text>
<text transform="translate(1072.02 790.1) scale(1 1.04)" text-anchor="middle" font-size="14.9">15,000</text>
<text transform="translate(1160.83 790.1) scale(1 1.04)" text-anchor="middle" font-size="14.9">20,000</text>
<text transform="translate(1249.64 790.1) scale(1 1.04)" text-anchor="middle" font-size="14.9">25,000</text>
<text transform="translate(1338.45 790.1) scale(1 1.04)" text-anchor="middle" font-size="14.9">30,000</text>
<text transform="translate(1427.26 790.1) scale(1 1.04)" text-anchor="middle" font-size="14.9">35,000</text>
<text transform="translate(847.08 437.45) scale(1 1.04)" text-anchor="end" font-size="14.9">10<tspan dy="-5.4" font-size="10.4">1</tspan></text>
<text transform="translate(847.08 485.56) scale(1 1.04)" text-anchor="end" font-size="14.9">10<tspan dy="-5.4" font-size="10.4">−1</tspan></text>
<text transform="translate(847.08 533.66) scale(1 1.04)" text-anchor="end" font-size="14.9">10<tspan dy="-5.4" font-size="10.4">−3</tspan></text>
<text transform="translate(847.08 581.77) scale(1 1.04)" text-anchor="end" font-size="14.9">10<tspan dy="-5.4" font-size="10.4">−5</tspan></text>
<text transform="translate(847.08 629.88) scale(1 1.04)" text-anchor="end" font-size="14.9">10<tspan dy="-5.4" font-size="10.4">−7</tspan></text>
<text transform="translate(847.08 677.99) scale(1 1.04)" text-anchor="end" font-size="14.9">10<tspan dy="-5.4" font-size="10.4">−9</tspan></text>
<text transform="translate(847.08 726.09) scale(1 1.04)" text-anchor="end" font-size="14.9">10<tspan dy="-5.4" font-size="10.4">−11</tspan></text>
<text transform="translate(847.08 774.2) scale(1 1.04)" text-anchor="end" font-size="14.9">10<tspan dy="-5.4" font-size="10.4">−13</tspan></text>
<text x="1160.49" y="815.55" text-anchor="middle" font-size="22.2" letter-spacing="0" style="font-kerning:none">Temperature (K)</text>
<text transform="translate(795.1 600.17) rotate(-90)" text-anchor="middle" font-size="22.2">I (<tspan font-style="italic">μ</tspan>W m<tspan dy="-8.88" font-size="15.54">−2</tspan><tspan dy="8.88">)</tspan></text>
<clipPath id="c02"><rect x="140.58" y="835.5" width="598.62" height="336.75"/></clipPath>
<path d="M176.1 835.5V1172.25M264.91 835.5V1172.25M353.72 835.5V1172.25M442.53 835.5V1172.25M531.34 835.5V1172.25M620.15 835.5V1172.25M708.96 835.5V1172.25M140.58 835.5H739.2M140.58 891.62H739.2M140.58 947.75H739.2M140.58 1003.88H739.2M140.58 1060H739.2M140.58 1116.12H739.2M140.58 1172.25H739.2" stroke="#b0b0b0" stroke-width="1.2" fill="none"/>
<g clip-path="url(#c02)" fill="none" stroke-width="2.26" stroke-linejoin="round">
<polyline points="140.58,1084.64 158.34,1013.08 176.1,973.79 193.87,944.33 211.63,935.18 229.39,938.15 247.15,947.83 264.91,957.07 282.68,966.55 300.44,975.78 318.2,985.44 335.96,993.04 353.72,985.72 371.49,974.77 389.25,964.39 407.01,955.41 424.77,948.82 442.53,943.48 460.3,938.71 478.06,934.03 495.82,929.51 513.58,925.58 531.34,921.88 549.11,918.51 566.87,915.65 584.63,913.18 602.39,910.93 620.15,908.83 637.92,906.72 655.68,904.62 673.44,902.65 691.2,900.97 708.96,899.43" stroke="#0000ff" stroke-linecap="square"/>
<polyline points="140.58,1114.1 158.34,1011.12 176.1,963.86 193.87,934.22 211.63,916.4 229.39,903.36 247.15,892.69 264.91,884.72 282.68,878.07 300.44,873.3 318.2,870.61 335.96,869.68 353.72,870.86 371.49,873.58 389.25,877.4 407.01,882 424.77,887.16 442.53,892.19 460.3,896.65 478.06,900.32 495.82,903.05 513.58,904.59 531.34,905.24 549.11,905.43 566.87,905.66 584.63,906.22 602.39,907.34 620.15,909.28 637.92,911.86 655.68,914.72 673.44,917.41 691.2,920.42 708.96,923.14" stroke="#ff0000" stroke-linecap="square"/>
<polyline points="140.58,1086.6 158.34,1013.64 176.1,974.63 193.87,944.89 211.63,936.69 229.39,943.06 247.15,953.03 264.91,962.57 282.68,972.39 300.44,982.21 318.2,994.11 335.96,993.3 353.72,983.14 371.49,970.85 389.25,961.16 407.01,953.45 424.77,946.35 442.53,940.76 460.3,935.91 478.06,931.33 495.82,926.73 513.58,923.28 531.34,919.32 549.11,915.79 566.87,912.84 584.63,910.65 602.39,908.6 620.15,906.44 637.92,904.28 655.68,902.23 673.44,900.27 691.2,898.53 708.96,896.98" stroke="#0000ff" stroke-dasharray="8.36 3.62"/>
<polyline points="140.58,1115.51 158.34,1013.92 176.1,968.46 193.87,940.4 211.63,923.56 229.39,909.95 247.15,898.98 264.91,890.14 282.68,883.77 300.44,879.7 318.2,877.93 335.96,878.52 353.72,881.33 371.49,885.79 389.25,890.95 407.01,896.26 424.77,901 442.53,905.49 460.3,909.28 478.06,912 495.82,913.63 513.58,914.58 531.34,915.25 549.11,915.65 566.87,916.35 584.63,917.7 602.39,919.74 620.15,922.19 637.92,925.16 655.68,928.13 673.44,931.28 691.2,934.25 708.96,937.11" stroke="#ff0000" stroke-dasharray="8.36 3.62"/>
<polyline points="140.58,1087.45 158.34,1014.48 176.1,976.04 193.87,950.78 211.63,945.87 229.39,953.87 247.15,964.36 264.91,974.86 282.68,985.35 300.44,995.85 318.2,1006.34 335.96,997.76 353.72,987.54 371.49,976.74 389.25,966.22 407.01,957.66 424.77,951.06 442.53,945.65 460.3,940.45 478.06,935.66 495.82,930.77 513.58,927.21 531.34,923.64 549.11,920.14 566.87,917.13 584.63,915 602.39,912.95 620.15,911.07 637.92,909.16 655.68,907 673.44,905.04 691.2,903.36 708.96,901.87" stroke="#0000ff" stroke-dasharray="14.46 3.62 2.26 3.62"/>
<polyline points="140.58,1116.91 158.34,1016.45 176.1,973.51 193.87,946.01 211.63,930.3 229.39,916.54 247.15,905.88 264.91,897.35 282.68,891.62 300.44,887.84 318.2,886.21 335.96,888.48 353.72,892.58 371.49,898.02 389.25,904.11 407.01,910.23 424.77,914.97 442.53,919.07 460.3,921.48 478.06,923.14 495.82,923.92 513.58,924.12 531.34,924.4 549.11,925.16 566.87,926.93 584.63,928.95 602.39,931.53 620.15,934.67 637.92,937.79 655.68,941.18 673.44,944.44 691.2,947.83 708.96,950.95" stroke="#ff0000" stroke-dasharray="14.46 3.62 2.26 3.62"/>
<circle cx="140.58" cy="1128.3" r="3.05" fill="#0000ff" stroke="none"/>
<circle cx="158.34" cy="1052.11" r="3.05" fill="#0000ff" stroke="none"/>
<circle cx="176.1" cy="1007.86" r="3.05" fill="#0000ff" stroke="none"/>
<circle cx="193.87" cy="986.78" r="3.05" fill="#0000ff" stroke="none"/>
<circle cx="211.63" cy="986.34" r="3.05" fill="#0000ff" stroke="none"/>
<circle cx="229.39" cy="996.19" r="3.05" fill="#0000ff" stroke="none"/>
<circle cx="247.15" cy="1006.99" r="3.05" fill="#0000ff" stroke="none"/>
<circle cx="264.91" cy="1017.91" r="3.05" fill="#0000ff" stroke="none"/>
<circle cx="282.68" cy="1030.09" r="3.05" fill="#0000ff" stroke="none"/>
<circle cx="300.44" cy="1043.58" r="3.05" fill="#0000ff" stroke="none"/>
<circle cx="318.2" cy="1043.19" r="3.05" fill="#0000ff" stroke="none"/>
<circle cx="335.96" cy="1029.13" r="3.05" fill="#0000ff" stroke="none"/>
<circle cx="353.72" cy="1016.59" r="3.05" fill="#0000ff" stroke="none"/>
<circle cx="371.49" cy="1006.43" r="3.05" fill="#0000ff" stroke="none"/>
<circle cx="389.25" cy="997.84" r="3.05" fill="#0000ff" stroke="none"/>
<circle cx="407.01" cy="990.57" r="3.05" fill="#0000ff" stroke="none"/>
<circle cx="424.77" cy="984.06" r="3.05" fill="#0000ff" stroke="none"/>
<circle cx="442.53" cy="978.37" r="3.05" fill="#0000ff" stroke="none"/>
<circle cx="460.3" cy="973.34" r="3.05" fill="#0000ff" stroke="none"/>
<circle cx="478.06" cy="968.99" r="3.05" fill="#0000ff" stroke="none"/>
<circle cx="495.82" cy="964.78" r="3.05" fill="#0000ff" stroke="none"/>
<circle cx="513.58" cy="961.14" r="3.05" fill="#0000ff" stroke="none"/>
<circle cx="531.34" cy="957.74" r="3.05" fill="#0000ff" stroke="none"/>
<circle cx="549.11" cy="954.74" r="3.05" fill="#0000ff" stroke="none"/>
<circle cx="566.87" cy="952.3" r="3.05" fill="#0000ff" stroke="none"/>
<circle cx="584.63" cy="950" r="3.05" fill="#0000ff" stroke="none"/>
<circle cx="602.39" cy="947.83" r="3.05" fill="#0000ff" stroke="none"/>
<circle cx="620.15" cy="945.79" r="3.05" fill="#0000ff" stroke="none"/>
<circle cx="637.92" cy="943.62" r="3.05" fill="#0000ff" stroke="none"/>
<circle cx="655.68" cy="941.58" r="3.05" fill="#0000ff" stroke="none"/>
<circle cx="673.44" cy="939.28" r="3.05" fill="#0000ff" stroke="none"/>
<circle cx="691.2" cy="937.25" r="3.05" fill="#0000ff" stroke="none"/>
<circle cx="708.96" cy="935.35" r="3.05" fill="#0000ff" stroke="none"/>
<circle cx="140.58" cy="1143.57" r="3.05" fill="#ff0000" stroke="none"/>
<circle cx="158.34" cy="1055.48" r="3.05" fill="#ff0000" stroke="none"/>
<circle cx="176.1" cy="1010.83" r="3.05" fill="#ff0000" stroke="none"/>
<circle cx="193.87" cy="983.61" r="3.05" fill="#ff0000" stroke="none"/>
<circle cx="211.63" cy="965.65" r="3.05" fill="#ff0000" stroke="none"/>
<circle cx="229.39" cy="951.29" r="3.05" fill="#ff0000" stroke="none"/>
<circle cx="247.15" cy="940.23" r="3.05" fill="#ff0000" stroke="none"/>
<circle cx="264.91" cy="932.23" r="3.05" fill="#ff0000" stroke="none"/>
<circle cx="282.68" cy="927.21" r="3.05" fill="#ff0000" stroke="none"/>
<circle cx="300.44" cy="924.77" r="3.05" fill="#ff0000" stroke="none"/>
<circle cx="318.2" cy="925.16" r="3.05" fill="#ff0000" stroke="none"/>
<circle cx="335.96" cy="928.27" r="3.05" fill="#ff0000" stroke="none"/>
<circle cx="353.72" cy="933.86" r="3.05" fill="#ff0000" stroke="none"/>
<circle cx="371.49" cy="939.81" r="3.05" fill="#ff0000" stroke="none"/>
<circle cx="389.25" cy="946.21" r="3.05" fill="#ff0000" stroke="none"/>
<circle cx="407.01" cy="951.9" r="3.05" fill="#ff0000" stroke="none"/>
<circle cx="424.77" cy="956.79" r="3.05" fill="#ff0000" stroke="none"/>
<circle cx="442.53" cy="960.04" r="3.05" fill="#ff0000" stroke="none"/>
<circle cx="460.3" cy="961.53" r="3.05" fill="#ff0000" stroke="none"/>
<circle cx="478.06" cy="961.95" r="3.05" fill="#ff0000" stroke="none"/>
<circle cx="495.82" cy="961.95" r="3.05" fill="#ff0000" stroke="none"/>
<circle cx="513.58" cy="962.2" r="3.05" fill="#ff0000" stroke="none"/>
<circle cx="531.34" cy="962.76" r="3.05" fill="#ff0000" stroke="none"/>
<circle cx="549.11" cy="964.78" r="3.05" fill="#ff0000" stroke="none"/>
<circle cx="566.87" cy="967.23" r="3.05" fill="#ff0000" stroke="none"/>
<circle cx="584.63" cy="970.23" r="3.05" fill="#ff0000" stroke="none"/>
<circle cx="602.39" cy="973.76" r="3.05" fill="#ff0000" stroke="none"/>
<circle cx="620.15" cy="977.41" r="3.05" fill="#ff0000" stroke="none"/>
<circle cx="637.92" cy="980.95" r="3.05" fill="#ff0000" stroke="none"/>
<circle cx="655.68" cy="984.62" r="3.05" fill="#ff0000" stroke="none"/>
<circle cx="673.44" cy="988.13" r="3.05" fill="#ff0000" stroke="none"/>
<circle cx="691.2" cy="991.67" r="3.05" fill="#ff0000" stroke="none"/>
<circle cx="708.96" cy="995.2" r="3.05" fill="#ff0000" stroke="none"/>
<path d="M140.58 1012.5H739.2" stroke="#0000ff" stroke-width="1" stroke-dasharray="2.76 1.19"/>
<path d="M140.58 1016.5H739.2" stroke="#ff0000" stroke-width="1" stroke-dasharray="2.76 1.19"/>
</g>
<path d="M176.1 1172.25v5.25M264.91 1172.25v5.25M353.72 1172.25v5.25M442.53 1172.25v5.25M531.34 1172.25v5.25M620.15 1172.25v5.25M708.96 1172.25v5.25M140.58 835.5h-5.25M140.58 891.62h-5.25M140.58 947.75h-5.25M140.58 1003.88h-5.25M140.58 1060h-5.25M140.58 1116.12h-5.25M140.58 1172.25h-5.25" stroke="#000" stroke-width="1.2" fill="none"/>
<rect x="140.58" y="835.5" width="598.62" height="336.75" fill="none" stroke="#000" stroke-width="1.2"/>
<text transform="translate(176.1 1194.1) scale(1 1.04)" text-anchor="middle" font-size="14.9">5,000</text>
<text transform="translate(264.91 1194.1) scale(1 1.04)" text-anchor="middle" font-size="14.9">10,000</text>
<text transform="translate(353.72 1194.1) scale(1 1.04)" text-anchor="middle" font-size="14.9">15,000</text>
<text transform="translate(442.53 1194.1) scale(1 1.04)" text-anchor="middle" font-size="14.9">20,000</text>
<text transform="translate(531.34 1194.1) scale(1 1.04)" text-anchor="middle" font-size="14.9">25,000</text>
<text transform="translate(620.15 1194.1) scale(1 1.04)" text-anchor="middle" font-size="14.9">30,000</text>
<text transform="translate(708.96 1194.1) scale(1 1.04)" text-anchor="middle" font-size="14.9">35,000</text>
<text transform="translate(128.78 841.45) scale(1 1.04)" text-anchor="end" font-size="14.9">10<tspan dy="-5.4" font-size="10.4">6</tspan></text>
<text transform="translate(128.78 897.58) scale(1 1.04)" text-anchor="end" font-size="14.9">10<tspan dy="-5.4" font-size="10.4">4</tspan></text>
<text transform="translate(128.78 953.7) scale(1 1.04)" text-anchor="end" font-size="14.9">10<tspan dy="-5.4" font-size="10.4">2</tspan></text>
<text transform="translate(128.78 1009.83) scale(1 1.04)" text-anchor="end" font-size="14.9">10<tspan dy="-5.4" font-size="10.4">0</tspan></text>
<text transform="translate(128.78 1065.95) scale(1 1.04)" text-anchor="end" font-size="14.9">10<tspan dy="-5.4" font-size="10.4">−2</tspan></text>
<text transform="translate(128.78 1122.08) scale(1 1.04)" text-anchor="end" font-size="14.9">10<tspan dy="-5.4" font-size="10.4">−4</tspan></text>
<text transform="translate(128.78 1178.2) scale(1 1.04)" text-anchor="end" font-size="14.9">10<tspan dy="-5.4" font-size="10.4">−6</tspan></text>
<text x="442.19" y="1219.55" text-anchor="middle" font-size="22.2" letter-spacing="0" style="font-kerning:none">Temperature (K)</text>
<text transform="translate(82.4 1000.88) rotate(-90)" text-anchor="middle" font-size="22.2">I (<tspan font-style="italic">μ</tspan>W m<tspan dy="-8.88" font-size="15.54">−2</tspan><tspan dy="8.88">)</tspan></text>
<text transform="translate(52.2 1010.08) rotate(-90)" text-anchor="middle" font-size="22.2">2 April 2019, Angle = 20<tspan dx="3.2" dy="-8.44" font-size="15.54">∘</tspan></text>
<clipPath id="c12"><rect x="858.88" y="835.5" width="598.62" height="336.75"/></clipPath>
<path d="M894.4 835.5V1172.25M983.21 835.5V1172.25M1072.02 835.5V1172.25M1160.83 835.5V1172.25M1249.64 835.5V1172.25M1338.45 835.5V1172.25M1427.26 835.5V1172.25M858.88 835.5H1457.5M858.88 883.61H1457.5M858.88 931.71H1457.5M858.88 979.82H1457.5M858.88 1027.93H1457.5M858.88 1076.04H1457.5M858.88 1124.14H1457.5M858.88 1172.25H1457.5" stroke="#b0b0b0" stroke-width="1.2" fill="none"/>
<g clip-path="url(#c12)" fill="none" stroke-width="2.26" stroke-linejoin="round">
<polyline points="858.88,1376.18 876.64,1328.07 894.4,1291.99 912.17,1263.12 929.93,1241.48 947.69,1224.64 965.45,1210.21 983.21,1198.18 1000.98,1188.56 1018.74,1181.34 1036.5,1166.91 1054.26,1153.92 1072.02,1142.54 1089.79,1133.62 1107.55,1126.57 1125.31,1120.75 1143.07,1115.48 1160.83,1110.34 1178.6,1106.3 1196.36,1102.64 1214.12,1099.51 1231.88,1096.55 1249.64,1094.03 1267.41,1091.67 1285.17,1090.32 1302.93,1089.65 1320.69,1089.39 1338.45,1089.77 1356.22,1090.47 1373.98,1091.26 1391.74,1091.94 1409.5,1092.49 1427.26,1092.75" stroke="#bf00bf" stroke-linecap="square"/>
<polyline points="858.88,1177.25 876.64,1124.82 894.4,1094.77 912.17,1076.52 929.93,1073.15 947.69,1079.23 965.45,1079.23 983.21,1063 1000.98,1044.72 1018.74,1025.79 1036.5,1008.88 1054.26,995.41 1072.02,983.21 1089.79,974.43 1107.55,967.67 1125.31,962.26 1143.07,957.26 1160.83,952.81 1178.6,948.74 1196.36,945.38 1214.12,942.39 1231.88,939.96 1249.64,937.94 1267.41,935.92 1285.17,935.25 1302.93,935.25 1320.69,935.92 1338.45,937.01 1356.22,938.35 1373.98,939.56 1391.74,940.9 1409.5,942.13 1427.26,943.07" stroke="#bf00bf" stroke-dasharray="8.36 3.62"/>
<polyline points="858.88,1115.68 876.64,1061.63 894.4,1029.18 912.17,1014.29 929.93,1012.68 947.69,1020.38 965.45,1023.09 983.21,1006.86 1000.98,985.31 1018.74,964.28 1036.5,949.71 1054.26,937.92 1072.02,926.74 1089.79,918.08 1107.55,910.91 1125.31,904.82 1143.07,899.7 1160.83,895.1 1178.6,891.33 1196.36,887.94 1214.12,885.24 1231.88,882.93 1249.64,881.18 1267.41,879.42 1285.17,878.89 1302.93,879.16 1320.69,880.5 1338.45,882.14 1356.22,883.9 1373.98,885.51 1391.74,887.26 1409.5,888.61 1427.26,889.69" stroke="#bf00bf" stroke-dasharray="14.46 3.62 2.26 3.62"/>
<circle cx="858.88" cy="1097.23" r="3.05" fill="#bf00bf" stroke="none"/>
<circle cx="876.64" cy="1043.78" r="3.05" fill="#bf00bf" stroke="none"/>
<circle cx="894.4" cy="1012.94" r="3.05" fill="#bf00bf" stroke="none"/>
<circle cx="912.17" cy="998.73" r="3.05" fill="#bf00bf" stroke="none"/>
<circle cx="929.93" cy="1001.71" r="3.05" fill="#bf00bf" stroke="none"/>
<circle cx="947.69" cy="1011.86" r="3.05" fill="#bf00bf" stroke="none"/>
<circle cx="965.45" cy="1011.31" r="3.05" fill="#bf00bf" stroke="none"/>
<circle cx="983.21" cy="992.52" r="3.05" fill="#bf00bf" stroke="none"/>
<circle cx="1000.98" cy="969.29" r="3.05" fill="#bf00bf" stroke="none"/>
<circle cx="1018.74" cy="949.83" r="3.05" fill="#bf00bf" stroke="none"/>
<circle cx="1036.5" cy="934.43" r="3.05" fill="#bf00bf" stroke="none"/>
<circle cx="1054.26" cy="922.26" r="3.05" fill="#bf00bf" stroke="none"/>
<circle cx="1072.02" cy="912.25" r="3.05" fill="#bf00bf" stroke="none"/>
<circle cx="1089.79" cy="904.15" r="3.05" fill="#bf00bf" stroke="none"/>
<circle cx="1107.55" cy="897" r="3.05" fill="#bf00bf" stroke="none"/>
<circle cx="1125.31" cy="890.92" r="3.05" fill="#bf00bf" stroke="none"/>
<circle cx="1143.07" cy="885.65" r="3.05" fill="#bf00bf" stroke="none"/>
<circle cx="1160.83" cy="881.06" r="3.05" fill="#bf00bf" stroke="none"/>
<circle cx="1178.6" cy="876.99" r="3.05" fill="#bf00bf" stroke="none"/>
<circle cx="1196.36" cy="873.62" r="3.05" fill="#bf00bf" stroke="none"/>
<circle cx="1214.12" cy="870.64" r="3.05" fill="#bf00bf" stroke="none"/>
<circle cx="1231.88" cy="868.74" r="3.05" fill="#bf00bf" stroke="none"/>
<circle cx="1249.64" cy="867.8" r="3.05" fill="#bf00bf" stroke="none"/>
<circle cx="1267.41" cy="867.4" r="3.05" fill="#bf00bf" stroke="none"/>
<circle cx="1285.17" cy="867.95" r="3.05" fill="#bf00bf" stroke="none"/>
<circle cx="1302.93" cy="868.89" r="3.05" fill="#bf00bf" stroke="none"/>
<circle cx="1320.69" cy="870.38" r="3.05" fill="#bf00bf" stroke="none"/>
<circle cx="1338.45" cy="872.13" r="3.05" fill="#bf00bf" stroke="none"/>
<circle cx="1356.22" cy="873.75" r="3.05" fill="#bf00bf" stroke="none"/>
<circle cx="1373.98" cy="875.24" r="3.05" fill="#bf00bf" stroke="none"/>
<circle cx="1391.74" cy="876.32" r="3.05" fill="#bf00bf" stroke="none"/>
<circle cx="1409.5" cy="876.99" r="3.05" fill="#bf00bf" stroke="none"/>
<circle cx="1427.26" cy="877.4" r="3.05" fill="#bf00bf" stroke="none"/>
<path d="M858.88 887.5H1457.5" stroke="#bf00bf" stroke-width="1" stroke-dasharray="2.76 1.19"/>
</g>
<path d="M894.4 1172.25v5.25M983.21 1172.25v5.25M1072.02 1172.25v5.25M1160.83 1172.25v5.25M1249.64 1172.25v5.25M1338.45 1172.25v5.25M1427.26 1172.25v5.25M858.88 835.5h-5.25M858.88 883.61h-5.25M858.88 931.71h-5.25M858.88 979.82h-5.25M858.88 1027.93h-5.25M858.88 1076.04h-5.25M858.88 1124.14h-5.25M858.88 1172.25h-5.25" stroke="#000" stroke-width="1.2" fill="none"/>
<rect x="858.88" y="835.5" width="598.62" height="336.75" fill="none" stroke="#000" stroke-width="1.2"/>
<text transform="translate(894.4 1194.1) scale(1 1.04)" text-anchor="middle" font-size="14.9">5,000</text>
<text transform="translate(983.21 1194.1) scale(1 1.04)" text-anchor="middle" font-size="14.9">10,000</text>
<text transform="translate(1072.02 1194.1) scale(1 1.04)" text-anchor="middle" font-size="14.9">15,000</text>
<text transform="translate(1160.83 1194.1) scale(1 1.04)" text-anchor="middle" font-size="14.9">20,000</text>
<text transform="translate(1249.64 1194.1) scale(1 1.04)" text-anchor="middle" font-size="14.9">25,000</text>
<text transform="translate(1338.45 1194.1) scale(1 1.04)" text-anchor="middle" font-size="14.9">30,000</text>
<text transform="translate(1427.26 1194.1) scale(1 1.04)" text-anchor="middle" font-size="14.9">35,000</text>
<text transform="translate(847.08 841.45) scale(1 1.04)" text-anchor="end" font-size="14.9">10<tspan dy="-5.4" font-size="10.4">1</tspan></text>
<text transform="translate(847.08 889.56) scale(1 1.04)" text-anchor="end" font-size="14.9">10<tspan dy="-5.4" font-size="10.4">−1</tspan></text>
<text transform="translate(847.08 937.66) scale(1 1.04)" text-anchor="end" font-size="14.9">10<tspan dy="-5.4" font-size="10.4">−3</tspan></text>
<text transform="translate(847.08 985.77) scale(1 1.04)" text-anchor="end" font-size="14.9">10<tspan dy="-5.4" font-size="10.4">−5</tspan></text>
<text transform="translate(847.08 1033.88) scale(1 1.04)" text-anchor="end" font-size="14.9">10<tspan dy="-5.4" font-size="10.4">−7</tspan></text>
<text transform="translate(847.08 1081.99) scale(1 1.04)" text-anchor="end" font-size="14.9">10<tspan dy="-5.4" font-size="10.4">−9</tspan></text>
<text transform="translate(847.08 1130.09) scale(1 1.04)" text-anchor="end" font-size="14.9">10<tspan dy="-5.4" font-size="10.4">−11</tspan></text>
<text transform="translate(847.08 1178.2) scale(1 1.04)" text-anchor="end" font-size="14.9">10<tspan dy="-5.4" font-size="10.4">−13</tspan></text>
<text x="1160.49" y="1219.55" text-anchor="middle" font-size="22.2" letter-spacing="0" style="font-kerning:none">Temperature (K)</text>
<text transform="translate(795.1 1004.17) rotate(-90)" text-anchor="middle" font-size="22.2">I (<tspan font-style="italic">μ</tspan>W m<tspan dy="-8.88" font-size="15.54">−2</tspan><tspan dy="8.88">)</tspan></text>
<rect x="505.5" y="197.6" width="227.4" height="160" rx="2.9" ry="2.9" fill="#fff" fill-opacity="0.8" stroke="#d4d4d4" stroke-width="1.2"/>
<path d="M510.9 208.8H537.9" stroke="#0000ff" stroke-width="2.26" stroke-linecap="square" fill="none"/>
<text x="548.2" y="213" font-size="13.3" letter-spacing="0">PH1 [337 / 4 nm] h=0 km</text>
<path d="M510.9 228.33H537.9" stroke="#ff0000" stroke-width="2.26" stroke-linecap="square" fill="none"/>
<text x="548.2" y="232.53" font-size="13.3" letter-spacing="0">PH3 [777 / 5 nm] h=0 km</text>
<path d="M510.9 247.86H537.9" stroke="#0000ff" stroke-width="2.26" stroke-dasharray="8.36 3.62" fill="none"/>
<text x="548.2" y="252.06" font-size="13.3" letter-spacing="0">PH1 [337 / 4 nm] h=6 km</text>
<path d="M510.9 267.39H537.9" stroke="#ff0000" stroke-width="2.26" stroke-dasharray="8.36 3.62" fill="none"/>
<text x="548.2" y="271.59" font-size="13.3" letter-spacing="0">PH3 [777 / 5 nm] h=6 km</text>
<path d="M510.9 286.92H537.9" stroke="#0000ff" stroke-width="2.26" stroke-dasharray="14.46 3.62 2.26 3.62" fill="none"/>
<text x="548.2" y="291.12" font-size="13.3" letter-spacing="0">PH1 [337 / 4 nm] h=10 km</text>
<path d="M510.9 306.45H537.9" stroke="#ff0000" stroke-width="2.26" stroke-dasharray="14.46 3.62 2.26 3.62" fill="none"/>
<text x="548.2" y="310.65" font-size="13.3" letter-spacing="0">PH3 [777 / 5 nm] h=10 km</text>
<circle cx="524.4" cy="325.98" r="3.05" fill="#0000ff"/>
<text x="548.2" y="330.18" font-size="13.3" letter-spacing="0">PH1 [337 / 4 nm] h=15 km</text>
<circle cx="524.4" cy="345.51" r="3.05" fill="#ff0000"/>
<text x="548.2" y="349.71" font-size="13.3" letter-spacing="0">PH3 [777 / 5 nm] h=15 km</text>
<rect x="1215.1" y="155" width="234.9" height="81.5" rx="2.9" ry="2.9" fill="#fff" fill-opacity="0.8" stroke="#d4d4d4" stroke-width="1.2"/>
<path d="M1220.5 166.2H1247.5" stroke="#bf00bf" stroke-width="2.26" stroke-linecap="square" fill="none"/>
<text x="1257.8" y="170.4" font-size="13.3" letter-spacing="0">PH2 [180-230 nm] h=0 km</text>
<path d="M1220.5 185.73H1247.5" stroke="#bf00bf" stroke-width="2.26" stroke-dasharray="8.36 3.62" fill="none"/>
<text x="1257.8" y="189.93" font-size="13.3" letter-spacing="0">PH2 [180-230 nm] h=6 km</text>
<path d="M1220.5 205.26H1247.5" stroke="#bf00bf" stroke-width="2.26" stroke-dasharray="14.46 3.62 2.26 3.62" fill="none"/>
<text x="1257.8" y="209.46" font-size="13.3" letter-spacing="0">PH2 [180-230 nm] h=10 km</text>
<circle cx="1234" cy="224.79" r="3.05" fill="#bf00bf"/>
<text x="1257.8" y="228.99" font-size="13.3" letter-spacing="0">PH2 [180-230 nm] h=15 km</text>
</svg>
</body></html>
